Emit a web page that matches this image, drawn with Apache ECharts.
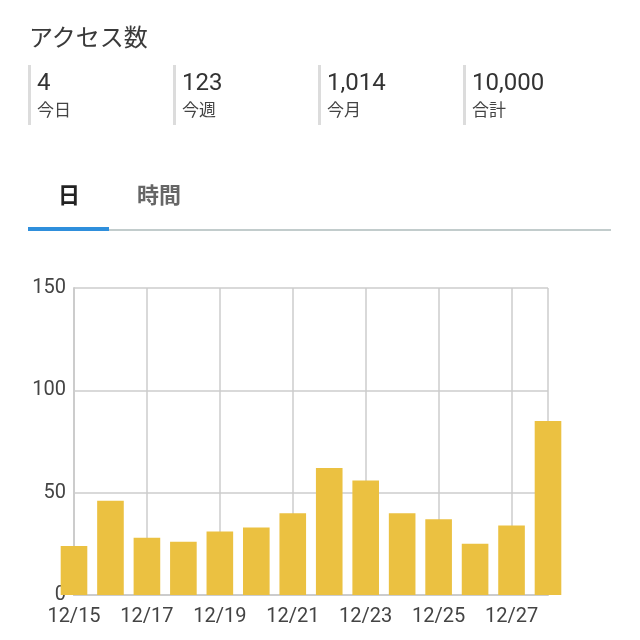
<!DOCTYPE html>
<html><head><meta charset="utf-8">
<script src="https://cdn.jsdelivr.net/npm/echarts@6/dist/echarts.min.js"></script>
<style>
html,body{margin:0;padding:0;background:#fff;width:640px;height:640px;overflow:hidden;font-family:Roboto,"Noto Sans CJK JP",sans-serif;}
#chart{position:absolute;left:0;top:0;width:640px;height:640px;}
.title{position:absolute;left:29px;top:22px;font-size:24px;color:#3a3a3a;line-height:32px;}
.stat{position:absolute;top:65px;height:60px;border-left:3px solid #dcdcdc;padding-left:6px;}
.stat .num{font-size:24px;color:#333;line-height:28px;margin-top:3px;}
.stat .lbl{font-size:17px;color:#444;line-height:24px;margin-top:2px;}
.tab{position:absolute;top:181px;font-size:22px;font-weight:bold;line-height:30px;}
.line-gray{position:absolute;left:108px;top:229px;width:503px;height:2px;background:#c2cccc;}
.line-blue{position:absolute;left:28px;top:227px;width:81px;height:4px;background:#2f8fdc;}
</style></head>
<body>
<div id="chart"></div>
<div class="title">アクセス数</div>
<div id="stats"></div>
<div class="tab" style="left:58px;color:#222;">日</div>
<div class="tab" style="left:137px;color:#666;">時間</div>
<div class="line-gray"></div>
<div class="line-blue"></div>
<script>
const statValues = ['4', '123', '1,014', '10,000'];
const statLabels = ['今日', '今週', '今月', '合計'];
const categories = ['12/15','12/16','12/17','12/18','12/19','12/20','12/21','12/22','12/23','12/24','12/25','12/26','12/27','12/28'];
const accessCounts = [24, 46, 28, 26, 31, 33, 40, 62, 56, 40, 37, 25, 34, 85];
const yTicks = { min: 0, max: 150, interval: 50 };

const statsEl = document.getElementById('stats');
statValues.forEach((v, i) => {
  const d = document.createElement('div');
  d.className = 'stat';
  d.style.left = (28 + i * 145) + 'px';
  d.innerHTML = '<div class="num"></div><div class="lbl"></div>';
  d.querySelector('.num').textContent = v;
  d.querySelector('.lbl').textContent = statLabels[i];
  statsEl.appendChild(d);
});

const chart = echarts.init(document.getElementById('chart'), null, { renderer: 'canvas' });
chart.setOption({
  animation: false,
  grid: { left: 74, right: 92, top: 288, bottom: 45, containLabel: false },
  xAxis: {
    type: 'category',
    data: categories,
    boundaryGap: false,
    axisLine: { show: true, lineStyle: { color: '#cccccc', width: 2 } },
    axisTick: { show: false },
    axisLabel: {
      interval: 1, color: '#444', fontSize: 20, margin: 12,
      fontFamily: 'Roboto'
    },
    splitLine: {
      show: true,
      interval: function (idx) { return idx % 2 === 0 || idx === categories.length - 1; },
      lineStyle: { color: '#cccccc', width: 1.5 }
    }
  },
  yAxis: {
    type: 'value',
    min: yTicks.min, max: yTicks.max, interval: yTicks.interval,
    axisLine: { show: true, lineStyle: { color: '#cccccc', width: 2 } },
    axisTick: { show: false },
    axisLabel: { color: '#444', fontSize: 20, margin: 8, fontFamily: 'Roboto' },
    splitLine: { show: true, lineStyle: { color: '#cccccc', width: 1.5 } }
  },
  series: [{
    type: 'bar',
    data: accessCounts,
    barCategoryGap: '27%',
    itemStyle: { color: '#ebc141' }
  }]
});
</script>
</body></html>
